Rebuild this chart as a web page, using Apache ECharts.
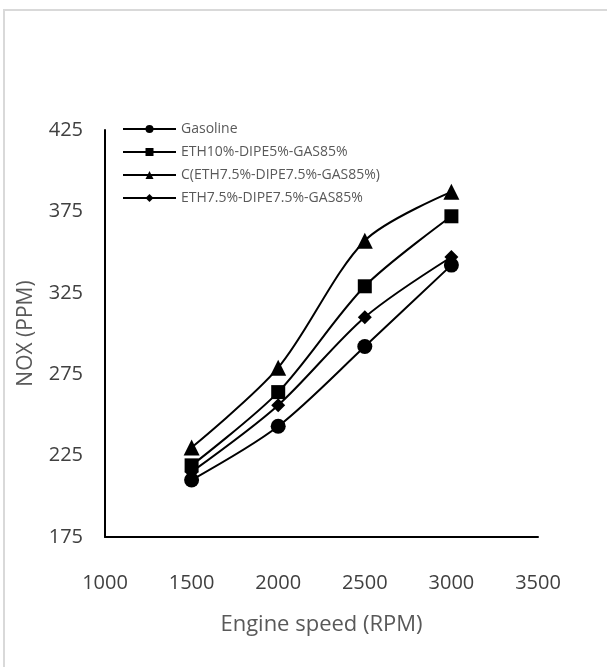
<!DOCTYPE html>
<html>
<head>
<meta charset="utf-8">
<script src="https://cdn.jsdelivr.net/npm/echarts@6/dist/echarts.min.js"></script>
<style>
html,body{margin:0;padding:0;background:#fff;}
#frame{position:absolute;left:3px;top:9px;width:700px;height:700px;border:2px solid #d9d9d9;box-sizing:border-box;}
#chart{position:absolute;left:0;top:0;width:607px;height:667px;}
</style>
</head>
<body>
<div id="frame"></div>
<div id="chart"></div>
<script>
var rpm = [1500, 2000, 2500, 3000];
var seriesNames = ['Gasoline', 'ETH10%-DIPE5%-GAS85%', 'C(ETH7.5%-DIPE7.5%-GAS85%)', 'ETH7.5%-DIPE7.5%-GAS85%'];
var gasoline = [210, 243, 292, 342];
var eth10 = [219, 264, 329, 372];
var cEth75 = [230, 279, 357, 387];
var eth75 = [215, 256, 310, 347];
var xTicks = [1000, 1500, 2000, 2500, 3000, 3500];
var yTicks = [175, 225, 275, 325, 375, 425];

var values = [gasoline, eth10, cEth75, eth75];
var symbols = ['circle', 'rect', 'triangle', 'diamond'];
var sizes = [15, 14, 16, 14];

var chart = echarts.init(document.getElementById('chart'));
var font = '"Open Sans", sans-serif';
chart.setOption({
  animation: false,
  textStyle: {fontFamily: font},
  grid: {left: 105, right: 69, top: 130, bottom: 130},
  legend: {
    left: 117, top: 117, orient: 'vertical',
    itemWidth: 53, itemHeight: 10, itemGap: 9,
    textStyle: {color: '#595959', fontSize: 14, fontFamily: font},
    data: seriesNames
  },
  xAxis: {
    type: 'value', min: xTicks[0], max: xTicks[xTicks.length - 1], interval: 500,
    name: 'Engine speed (RPM)', nameLocation: 'middle', nameGap: 77,
    nameTextStyle: {color: '#595959', fontSize: 22, fontFamily: font},
    axisLine: {lineStyle: {color: '#000', width: 2}},
    axisTick: {show: false}, splitLine: {show: false},
    axisLabel: {color: '#404040', fontSize: 20, margin: 36, fontFamily: font,
      formatter: function (v) { return String(v); }}
  },
  yAxis: {
    type: 'value', min: yTicks[0], max: yTicks[yTicks.length - 1], interval: 50,
    name: 'NOX (PPM)', nameLocation: 'middle', nameGap: 68,
    nameTextStyle: {color: '#595959', fontSize: 21, fontFamily: font},
    axisLine: {show: true, lineStyle: {color: '#000', width: 2}},
    axisTick: {show: false}, splitLine: {show: false},
    axisLabel: {color: '#404040', fontSize: 20, margin: 22, fontFamily: font}
  },
  series: seriesNames.map(function (n, i) {
    return {
      name: n, type: 'line', smooth: 0.3,
      symbol: symbols[i], symbolSize: sizes[i],
      lineStyle: {color: '#000', width: 2},
      itemStyle: {color: '#000'},
      data: rpm.map(function (x, j) { return [x, values[i][j]]; })
    };
  })
});
</script>
</body>
</html>
